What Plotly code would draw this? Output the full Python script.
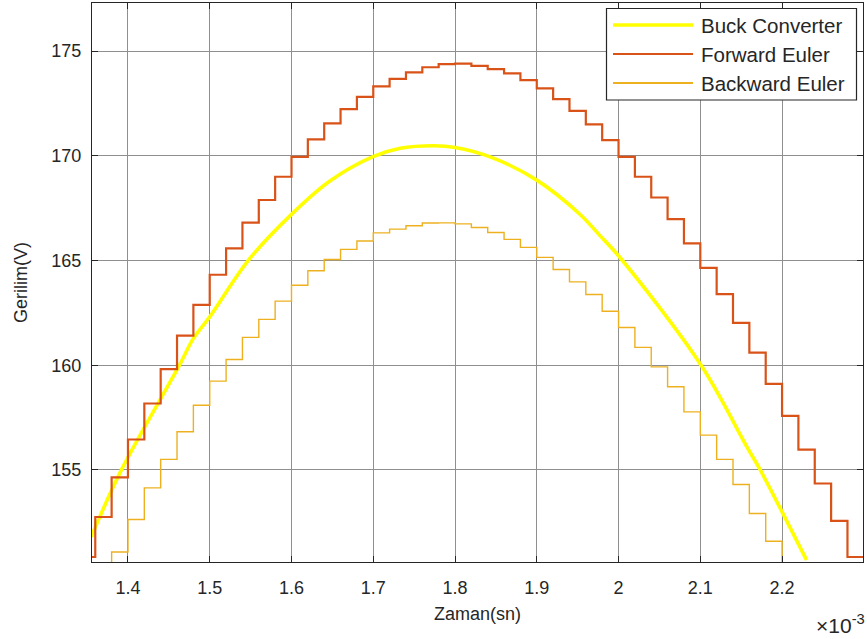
import numpy as np
import plotly.graph_objects as go

# time stamps in milliseconds (converted to seconds below)
fe_t_ms = [1.356, 1.36, 1.38, 1.40, 1.42, 1.44, 1.46, 1.48, 1.50, 1.52, 1.54, 1.56, 1.58,
           1.60, 1.62, 1.64, 1.66, 1.68, 1.70, 1.72, 1.74, 1.76, 1.78, 1.80, 1.82, 1.84,
           1.86, 1.88, 1.90, 1.92, 1.94, 1.96, 1.98, 2.00, 2.02, 2.04, 2.06, 2.08, 2.10,
           2.12, 2.14, 2.16, 2.18, 2.20, 2.22, 2.24, 2.26, 2.28, 2.299]
fe_v = [150.84, 152.75, 154.64, 156.45, 158.17, 159.81, 161.41, 162.88, 164.32, 165.58,
        166.81, 167.89, 169.00, 169.95, 170.79, 171.55, 172.23, 172.82, 173.32, 173.68,
        173.99, 174.23, 174.38, 174.40, 174.30, 174.14, 173.94, 173.62, 173.22, 172.71,
        172.15, 171.50, 170.75, 169.95, 169.00, 168.01, 166.98, 165.82, 164.65, 163.39,
        162.02, 160.60, 159.11, 157.58, 155.97, 154.35, 152.56, 150.84, 150.84]

be_t_ms = [1.356, 1.38, 1.40, 1.42, 1.44, 1.46, 1.48, 1.50, 1.52, 1.54, 1.56, 1.58, 1.60,
           1.62, 1.64, 1.66, 1.68, 1.70, 1.72, 1.74, 1.76, 1.78, 1.80, 1.82, 1.84, 1.86,
           1.88, 1.90, 1.92, 1.94, 1.96, 1.98, 2.00, 2.02, 2.04, 2.06, 2.08, 2.10, 2.12,
           2.14, 2.16, 2.18, 2.20, 2.299]
be_v = [149.5, 151.08, 152.63, 154.14, 155.50, 156.82, 158.09, 159.24, 160.27, 161.33,
        162.19, 163.06, 163.82, 164.51, 165.05, 165.53, 165.93, 166.32, 166.50, 166.66,
        166.79, 166.80, 166.75, 166.58, 166.34, 166.01, 165.63, 165.15, 164.57, 163.98,
        163.38, 162.58, 161.80, 160.85, 159.92, 158.97, 157.77, 156.66, 155.50, 154.30,
        152.92, 151.59, 150.2, 150.2]

buck_t_ms = [1.355, 1.392, 1.463, 1.480, 1.500, 1.547, 1.599, 1.647, 1.699, 1.733, 1.774,
             1.800, 1.843, 1.900, 1.953, 1.977, 2.001, 2.101, 2.157, 2.173, 2.201, 2.230]
buck_v = [151.8, 155.0, 160.0, 161.28, 162.31, 165.0, 167.17, 168.8, 169.95, 170.36, 170.48,
          170.40, 169.95, 168.84, 167.2, 166.2, 165.18, 160.0, 156.1, 155.02, 152.92, 150.69]

series_names = ["Buck Converter", "Forward Euler", "Backward Euler"]
series_colors = ["#FFFF00", "#D95319", "#EDB120"]
series_widths = [3.6, 2.2, 1.4]

x_tick_ms = [1.4, 1.5, 1.6, 1.7, 1.8, 1.9, 2.0, 2.1, 2.2]
x_tick_text = ["1.4", "1.5", "1.6", "1.7", "1.8", "1.9", "2", "2.1", "2.2"]
y_ticks = [155, 160, 165, 170, 175]

to_s = lambda a: (np.array(a) * 1e-3).tolist()

FONT = "Arial, 'Liberation Sans', Helvetica, sans-serif"
TXT = "#262626"

fig = go.Figure()
fig.add_trace(go.Scatter(x=to_s(buck_t_ms), y=buck_v, mode="lines", name=series_names[0],
                         line=dict(color=series_colors[0], width=series_widths[0],
                                   shape="spline")))
fig.add_trace(go.Scatter(x=to_s(fe_t_ms), y=fe_v, mode="lines", name=series_names[1],
                         line=dict(color=series_colors[1], width=series_widths[1], shape="hv")))
fig.add_trace(go.Scatter(x=to_s(be_t_ms), y=be_v, mode="lines", name=series_names[2],
                         line=dict(color=series_colors[2], width=series_widths[2], shape="hv")))

axis_common = dict(showline=True, linecolor=TXT, linewidth=1.3, mirror="ticks",
                   ticks="inside", ticklen=6, tickcolor=TXT, showgrid=True,
                   gridcolor="#8f8f8f", gridwidth=1, zeroline=False,
                   tickfont=dict(family=FONT, size=18, color=TXT))

fig.update_layout(
    width=867, height=639,
    margin=dict(l=92, r=4, t=3, b=77),
    paper_bgcolor="white", plot_bgcolor="white",
    xaxis=dict(range=[1.356e-3, 2.299e-3], tickvals=to_s(x_tick_ms), ticktext=x_tick_text,
               ticklabelstandoff=9,
               title=dict(text="Zaman(sn)", font=dict(family=FONT, size=18, color=TXT),
                          standoff=10),
               **axis_common),
    yaxis=dict(range=[150.6, 177.3], tickvals=y_ticks, ticklabelstandoff=6,
               title=dict(text="Gerilim(V)", font=dict(family=FONT, size=18, color=TXT),
                          standoff=18),
               **axis_common),
    showlegend=False,
)

# ---- legend box drawn in pixel-derived paper coordinates ----
PL, PW, PT, PH = 92, 771, 3, 559
px = lambda v: (v - PL) / PW
py = lambda v: 1 - (v - PT) / PH

fig.add_shape(type="rect", xref="paper", yref="paper",
              x0=px(606.5), x1=px(856.5), y0=py(100), y1=py(8.5),
              line=dict(color=TXT, width=1.2), fillcolor="white", layer="above")
row_y = [25, 54, 83]
for name, col, w, ry in zip(series_names, series_colors, series_widths, row_y):
    fig.add_shape(type="line", xref="paper", yref="paper",
                  x0=px(613), x1=px(693), y0=py(ry), y1=py(ry),
                  line=dict(color=col, width=max(w, 2.0)), layer="above")
    fig.add_annotation(xref="paper", yref="paper", x=px(699), y=py(ry),
                       xanchor="left", yanchor="middle", showarrow=False, text=name,
                       font=dict(family=FONT, size=20.5, color=TXT))

fig.add_annotation(xref="paper", yref="paper", x=px(867), y=py(609), xanchor="right",
                   yanchor="top", showarrow=False,
                   text="×10<sup>-3</sup>", font=dict(family=FONT, size=21, color=TXT))

fig.write_html("out.html")
